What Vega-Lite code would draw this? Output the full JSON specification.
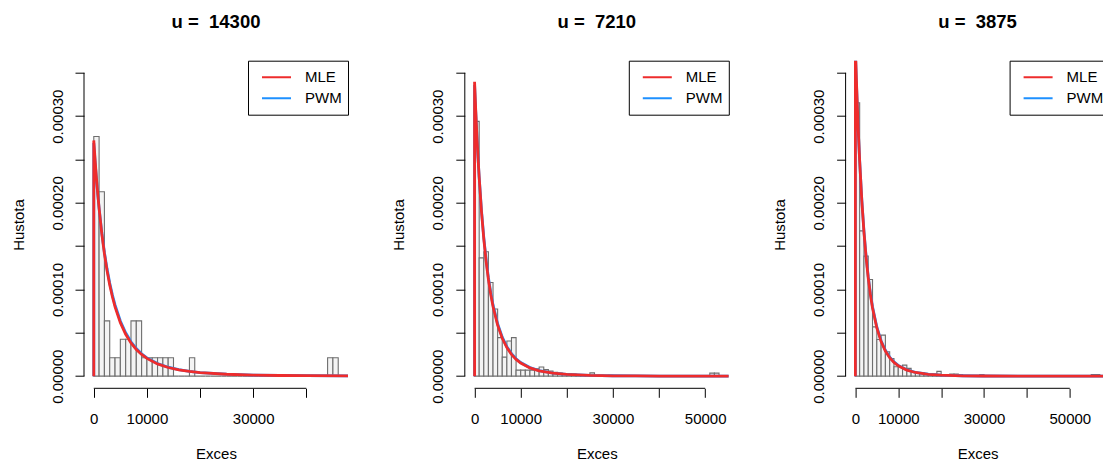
{
  "$schema": "https://vega.github.io/schema/vega-lite/v6.json",
  "background": "white",
  "padding": {"left": 11, "top": 12.7, "right": 0, "bottom": 0},
  "bounds": "flush",
  "spacing": 116.8,
  "config": {
    "font": "Liberation Sans",
    "view": {"stroke": null},
    "axis": {"domain": false, "grid": false, "tickColor": "black", "tickSize": 9, "tickWidth": 1, "labelFont": "Liberation Sans", "labelFontSize": 15, "labelColor": "black", "titleFont": "Liberation Sans", "titleFontSize": 15, "titleFontWeight": "normal", "titleColor": "black", "labelOverlap": false, "labelFlush": false},
    "axisX": {"labelPadding": 14, "titlePadding": 20},
    "axisY": {"labelPadding": 10, "titlePadding": 24, "labelAngle": -90, "labelAlign": "center", "labelBaseline": "bottom"},
    "legend": {"orient": "top-right", "offset": 0, "strokeColor": "black", "strokeWidth": 1, "fillColor": "white", "padding": 6, "labelFont": "Liberation Sans", "labelFontSize": 15, "labelColor": "black", "symbolType": "stroke", "symbolSize": 841, "symbolStrokeWidth": 2, "symbolOffset": 7, "labelOffset": 13, "clipHeight": 21, "rowPadding": 0, "cornerRadius": 0},
    "title": {"font": "Liberation Sans", "fontSize": 18.5, "fontWeight": "bold", "color": "black", "anchor": "middle", "frame": "group", "baseline": "alphabetic", "offset": 28.9}
  },
  "datasets": {
    "b1": [
      {"a":0,"b":1000,"d":2.766e-4},{"a":1000,"b":2000,"d":2.128e-4},{"a":2000,"b":3000,"d":6.383e-5},{"a":3000,"b":4000,"d":2.128e-5},{"a":4000,"b":5000,"d":2.128e-5},{"a":5000,"b":6000,"d":4.255e-5},{"a":6000,"b":7000,"d":4.255e-5},{"a":7000,"b":8000,"d":6.383e-5},{"a":8000,"b":9000,"d":6.383e-5},{"a":9000,"b":10000,"d":2.128e-5},
      {"a":10000,"b":11000,"d":2.128e-5},{"a":11000,"b":12000,"d":2.128e-5},{"a":12000,"b":13000,"d":2.128e-5},{"a":13000,"b":14000,"d":2.128e-5},{"a":14000,"b":15000,"d":2.128e-5},{"a":15000,"b":16000,"d":0},{"a":16000,"b":17000,"d":0},{"a":17000,"b":18000,"d":0},{"a":18000,"b":19000,"d":2.128e-5},{"a":19000,"b":20000,"d":0},
      {"a":20000,"b":21000,"d":0},{"a":21000,"b":22000,"d":0},{"a":22000,"b":23000,"d":0},{"a":23000,"b":24000,"d":0},{"a":24000,"b":25000,"d":0},{"a":25000,"b":26000,"d":0},{"a":26000,"b":27000,"d":0},{"a":27000,"b":28000,"d":0},{"a":28000,"b":29000,"d":0},{"a":29000,"b":30000,"d":0},
      {"a":30000,"b":31000,"d":0},{"a":31000,"b":32000,"d":0},{"a":32000,"b":33000,"d":0},{"a":33000,"b":34000,"d":0},{"a":34000,"b":35000,"d":0},{"a":35000,"b":36000,"d":0},{"a":36000,"b":37000,"d":0},{"a":37000,"b":38000,"d":0},{"a":38000,"b":39000,"d":0},{"a":39000,"b":40000,"d":0},
      {"a":40000,"b":41000,"d":0},{"a":41000,"b":42000,"d":0},{"a":42000,"b":43000,"d":0},{"a":43000,"b":44000,"d":0},{"a":44000,"b":45000,"d":2.128e-5},{"a":45000,"b":46000,"d":2.128e-5}
    ],
    "b2": [
      {"a":0,"b":1000,"d":2.94e-4},{"a":1000,"b":2000,"d":1.365e-4},{"a":2000,"b":3000,"d":1.435e-4},{"a":3000,"b":4000,"d":1.08e-4},{"a":4000,"b":5000,"d":7.75e-5},{"a":5000,"b":6000,"d":4.45e-5},{"a":6000,"b":7000,"d":2.2e-5},{"a":7000,"b":8000,"d":4.05e-5},{"a":8000,"b":9000,"d":4.45e-5},{"a":9000,"b":10000,"d":7.0e-6},
      {"a":10000,"b":11000,"d":7.0e-6},{"a":11000,"b":12000,"d":7.0e-6},{"a":12000,"b":13000,"d":7.0e-6},{"a":13000,"b":14000,"d":8.5e-6},{"a":14000,"b":15000,"d":1.05e-5},{"a":15000,"b":16000,"d":7.5e-6},{"a":16000,"b":17000,"d":6.0e-6},{"a":17000,"b":18000,"d":4.5e-6},{"a":18000,"b":19000,"d":3.5e-6},{"a":19000,"b":20000,"d":3.0e-6},
      {"a":20000,"b":21000,"d":3.0e-6},{"a":21000,"b":22000,"d":2.5e-6},{"a":22000,"b":23000,"d":2.0e-6},{"a":23000,"b":24000,"d":2.0e-6},{"a":24000,"b":25000,"d":1.0e-6},{"a":25000,"b":26000,"d":3.8e-6},{"a":26000,"b":27000,"d":1.0e-6},{"a":27000,"b":28000,"d":1.0e-6},{"a":28000,"b":29000,"d":0},{"a":29000,"b":30000,"d":1.0e-6},
      {"a":30000,"b":31000,"d":0},{"a":31000,"b":32000,"d":0},{"a":32000,"b":33000,"d":0},{"a":33000,"b":34000,"d":0},{"a":34000,"b":35000,"d":0},{"a":35000,"b":36000,"d":0},{"a":36000,"b":37000,"d":0},{"a":37000,"b":38000,"d":0},{"a":38000,"b":39000,"d":0},{"a":39000,"b":40000,"d":0},
      {"a":40000,"b":41000,"d":0},{"a":41000,"b":42000,"d":0},{"a":42000,"b":43000,"d":0},{"a":43000,"b":44000,"d":0},{"a":44000,"b":45000,"d":0},{"a":45000,"b":46000,"d":0},{"a":46000,"b":47000,"d":0},{"a":47000,"b":48000,"d":0},{"a":48000,"b":49000,"d":0},{"a":49000,"b":50000,"d":0},
      {"a":50000,"b":51000,"d":0},{"a":51000,"b":52000,"d":3.5e-6},{"a":52000,"b":53000,"d":3.5e-6}
    ],
    "b3": [
      {"a":0,"b":1000,"d":3.155e-4},{"a":1000,"b":2000,"d":1.677e-4},{"a":2000,"b":3000,"d":1.385e-4},{"a":3000,"b":4000,"d":1.115e-4},{"a":4000,"b":5000,"d":5.69e-5},{"a":5000,"b":6000,"d":4.23e-5},{"a":6000,"b":7000,"d":4.73e-5},{"a":7000,"b":8000,"d":2.81e-5},{"a":8000,"b":9000,"d":2.04e-5},{"a":9000,"b":10000,"d":1.08e-5},
      {"a":10000,"b":11000,"d":1.08e-5},{"a":11000,"b":12000,"d":1.27e-5},{"a":12000,"b":13000,"d":9.0e-6},{"a":13000,"b":14000,"d":4.5e-6},{"a":14000,"b":15000,"d":4.2e-6},{"a":15000,"b":16000,"d":4.2e-6},{"a":16000,"b":17000,"d":3.0e-6},{"a":17000,"b":18000,"d":2.5e-6},{"a":18000,"b":19000,"d":2.3e-6},{"a":19000,"b":20000,"d":5.5e-6},
      {"a":20000,"b":21000,"d":2.0e-6},{"a":21000,"b":22000,"d":2.0e-6},{"a":22000,"b":23000,"d":2.5e-6},{"a":23000,"b":24000,"d":2.5e-6},{"a":24000,"b":25000,"d":2.0e-6},{"a":25000,"b":26000,"d":5.0e-7},{"a":26000,"b":27000,"d":0},{"a":27000,"b":28000,"d":5.0e-7},{"a":28000,"b":29000,"d":0},{"a":29000,"b":30000,"d":2.0e-6},
      {"a":30000,"b":31000,"d":0},{"a":31000,"b":32000,"d":0},{"a":32000,"b":33000,"d":0},{"a":33000,"b":34000,"d":0},{"a":34000,"b":35000,"d":0},{"a":35000,"b":36000,"d":0},{"a":36000,"b":37000,"d":0},{"a":37000,"b":38000,"d":0},{"a":38000,"b":39000,"d":0},{"a":39000,"b":40000,"d":0},
      {"a":40000,"b":41000,"d":0},{"a":41000,"b":42000,"d":0},{"a":42000,"b":43000,"d":0},{"a":43000,"b":44000,"d":0},{"a":44000,"b":45000,"d":0},{"a":45000,"b":46000,"d":0},{"a":46000,"b":47000,"d":0},{"a":47000,"b":48000,"d":0},{"a":48000,"b":49000,"d":0},{"a":49000,"b":50000,"d":0},
      {"a":50000,"b":51000,"d":0},{"a":51000,"b":52000,"d":0},{"a":52000,"b":53000,"d":0},{"a":53000,"b":54000,"d":0},{"a":54000,"b":55000,"d":0},{"a":55000,"b":56000,"d":2.0e-6},{"a":56000,"b":57000,"d":2.0e-6}
    ],
    "c1": [
      {"m":"PWM","x":0,"d":0},{"m":"PWM","x":0,"d":2.69e-4},{"m":"PWM","x":250,"d":2.47e-4},{"m":"PWM","x":500,"d":2.275e-4},{"m":"PWM","x":750,"d":2.098e-4},{"m":"PWM","x":1000,"d":1.938e-4},{"m":"PWM","x":1500,"d":1.66e-4},{"m":"PWM","x":2000,"d":1.43e-4},{"m":"PWM","x":2500,"d":1.238e-4},{"m":"PWM","x":3000,"d":1.075e-4},{"m":"PWM","x":3500,"d":9.38e-5},{"m":"PWM","x":4000,"d":8.22e-5},{"m":"PWM","x":5000,"d":6.36e-5},{"m":"PWM","x":6000,"d":5.0e-5},{"m":"PWM","x":7000,"d":3.97e-5},{"m":"PWM","x":8000,"d":3.18e-5},{"m":"PWM","x":9000,"d":2.58e-5},{"m":"PWM","x":10000,"d":2.11e-5},{"m":"PWM","x":12000,"d":1.45e-5},{"m":"PWM","x":14000,"d":1.03e-5},{"m":"PWM","x":16000,"d":7.5e-6},{"m":"PWM","x":18000,"d":5.55e-6},{"m":"PWM","x":20000,"d":4.2e-6},{"m":"PWM","x":25000,"d":2.25e-6},{"m":"PWM","x":30000,"d":1.3e-6},{"m":"PWM","x":35000,"d":8.0e-7},{"m":"PWM","x":40000,"d":5.2e-7},{"m":"PWM","x":47840,"d":2.9e-7},
      {"m":"MLE","x":0,"d":0},{"m":"MLE","x":0,"d":2.72e-4},{"m":"MLE","x":250,"d":2.492e-4},{"m":"MLE","x":500,"d":2.287e-4},{"m":"MLE","x":750,"d":2.103e-4},{"m":"MLE","x":1000,"d":1.936e-4},{"m":"MLE","x":1500,"d":1.649e-4},{"m":"MLE","x":2000,"d":1.413e-4},{"m":"MLE","x":2500,"d":1.217e-4},{"m":"MLE","x":3000,"d":1.053e-4},{"m":"MLE","x":3500,"d":9.16e-5},{"m":"MLE","x":4000,"d":8.0e-5},{"m":"MLE","x":5000,"d":6.17e-5},{"m":"MLE","x":6000,"d":4.84e-5},{"m":"MLE","x":7000,"d":3.84e-5},{"m":"MLE","x":8000,"d":3.08e-5},{"m":"MLE","x":9000,"d":2.5e-5},{"m":"MLE","x":10000,"d":2.05e-5},{"m":"MLE","x":12000,"d":1.41e-5},{"m":"MLE","x":14000,"d":1.0e-5},{"m":"MLE","x":16000,"d":7.29e-6},{"m":"MLE","x":18000,"d":5.42e-6},{"m":"MLE","x":20000,"d":4.1e-6},{"m":"MLE","x":25000,"d":2.2e-6},{"m":"MLE","x":30000,"d":1.27e-6},{"m":"MLE","x":35000,"d":7.8e-7},{"m":"MLE","x":40000,"d":5.1e-7},{"m":"MLE","x":47840,"d":2.8e-7}
    ],
    "c2": [
      {"m":"PWM","x":0,"d":0},{"m":"PWM","x":0,"d":3.36e-4},{"m":"PWM","x":250,"d":3.05e-4},{"m":"PWM","x":500,"d":2.77e-4},{"m":"PWM","x":750,"d":2.52e-4},{"m":"PWM","x":1000,"d":2.295e-4},{"m":"PWM","x":1500,"d":1.91e-4},{"m":"PWM","x":2000,"d":1.6e-4},{"m":"PWM","x":2500,"d":1.345e-4},{"m":"PWM","x":3000,"d":1.136e-4},{"m":"PWM","x":3500,"d":9.65e-5},{"m":"PWM","x":4000,"d":8.22e-5},{"m":"PWM","x":5000,"d":6.05e-5},{"m":"PWM","x":6000,"d":4.5e-5},{"m":"PWM","x":7000,"d":3.4e-5},{"m":"PWM","x":8000,"d":2.6e-5},{"m":"PWM","x":9000,"d":2.01e-5},{"m":"PWM","x":10000,"d":1.57e-5},{"m":"PWM","x":12000,"d":9.9e-6},{"m":"PWM","x":14000,"d":6.45e-6},{"m":"PWM","x":17000,"d":3.57e-6},{"m":"PWM","x":20000,"d":2.07e-6},{"m":"PWM","x":25000,"d":9.3e-7},{"m":"PWM","x":30000,"d":4.6e-7},{"m":"PWM","x":35000,"d":2.5e-7},{"m":"PWM","x":40000,"d":1.4e-7},{"m":"PWM","x":45000,"d":8.2e-8},{"m":"PWM","x":55120,"d":3.3e-8},
      {"m":"MLE","x":0,"d":0},{"m":"MLE","x":0,"d":3.396e-4},{"m":"MLE","x":250,"d":3.07e-4},{"m":"MLE","x":500,"d":2.779e-4},{"m":"MLE","x":750,"d":2.521e-4},{"m":"MLE","x":1000,"d":2.29e-4},{"m":"MLE","x":1500,"d":1.897e-4},{"m":"MLE","x":2000,"d":1.582e-4},{"m":"MLE","x":2500,"d":1.325e-4},{"m":"MLE","x":3000,"d":1.116e-4},{"m":"MLE","x":3500,"d":9.45e-5},{"m":"MLE","x":4000,"d":8.03e-5},{"m":"MLE","x":5000,"d":5.88e-5},{"m":"MLE","x":6000,"d":4.37e-5},{"m":"MLE","x":7000,"d":3.29e-5},{"m":"MLE","x":8000,"d":2.51e-5},{"m":"MLE","x":9000,"d":1.94e-5},{"m":"MLE","x":10000,"d":1.514e-5},{"m":"MLE","x":12000,"d":9.5e-6},{"m":"MLE","x":14000,"d":6.16e-6},{"m":"MLE","x":17000,"d":3.4e-6},{"m":"MLE","x":20000,"d":1.97e-6},{"m":"MLE","x":25000,"d":8.8e-7},{"m":"MLE","x":30000,"d":4.3e-7},{"m":"MLE","x":35000,"d":2.3e-7},{"m":"MLE","x":40000,"d":1.3e-7},{"m":"MLE","x":45000,"d":7.6e-8},{"m":"MLE","x":55120,"d":3.0e-8}
    ],
    "c3": [
      {"m":"PWM","x":0,"d":0},{"m":"PWM","x":0,"d":3.75e-4},{"m":"PWM","x":250,"d":3.38e-4},{"m":"PWM","x":500,"d":3.05e-4},{"m":"PWM","x":750,"d":2.75e-4},{"m":"PWM","x":1000,"d":2.485e-4},{"m":"PWM","x":1500,"d":2.035e-4},{"m":"PWM","x":2000,"d":1.675e-4},{"m":"PWM","x":2500,"d":1.383e-4},{"m":"PWM","x":3000,"d":1.148e-4},{"m":"PWM","x":3500,"d":9.57e-5},{"m":"PWM","x":4000,"d":8.0e-5},{"m":"PWM","x":5000,"d":5.68e-5},{"m":"PWM","x":6000,"d":4.09e-5},{"m":"PWM","x":7000,"d":2.98e-5},{"m":"PWM","x":8000,"d":2.2e-5},{"m":"PWM","x":9000,"d":1.64e-5},{"m":"PWM","x":10000,"d":1.24e-5},{"m":"PWM","x":12000,"d":7.3e-6},{"m":"PWM","x":14000,"d":4.43e-6},{"m":"PWM","x":17000,"d":2.22e-6},{"m":"PWM","x":20000,"d":1.17e-6},{"m":"PWM","x":25000,"d":4.6e-7},{"m":"PWM","x":30000,"d":1.95e-7},{"m":"PWM","x":40000,"d":4.5e-8},{"m":"PWM","x":50000,"d":1.1e-8},{"m":"PWM","x":59280,"d":6.0e-9},
      {"m":"MLE","x":0,"d":0},{"m":"MLE","x":0,"d":3.8e-4},{"m":"MLE","x":250,"d":3.409e-4},{"m":"MLE","x":500,"d":3.064e-4},{"m":"MLE","x":750,"d":2.757e-4},{"m":"MLE","x":1000,"d":2.484e-4},{"m":"MLE","x":1500,"d":2.026e-4},{"m":"MLE","x":2000,"d":1.661e-4},{"m":"MLE","x":2500,"d":1.368e-4},{"m":"MLE","x":3000,"d":1.133e-4},{"m":"MLE","x":3500,"d":9.42e-5},{"m":"MLE","x":4000,"d":7.87e-5},{"m":"MLE","x":5000,"d":5.56e-5},{"m":"MLE","x":6000,"d":3.99e-5},{"m":"MLE","x":7000,"d":2.9e-5},{"m":"MLE","x":8000,"d":2.13e-5},{"m":"MLE","x":9000,"d":1.589e-5},{"m":"MLE","x":10000,"d":1.197e-5},{"m":"MLE","x":12000,"d":6.99e-6},{"m":"MLE","x":14000,"d":4.23e-6},{"m":"MLE","x":17000,"d":2.11e-6},{"m":"MLE","x":20000,"d":1.11e-6},{"m":"MLE","x":25000,"d":4.3e-7},{"m":"MLE","x":30000,"d":1.8e-7},{"m":"MLE","x":40000,"d":4.0e-8},{"m":"MLE","x":50000,"d":1.0e-8},{"m":"MLE","x":59280,"d":5.0e-9}
    ]
  },
  "resolve": {"scale": {"x": "independent", "y": "independent", "color": "independent"}, "legend": {"color": "independent"}},
  "hconcat": [
    {
      "width": 264, "height": 327.6,
      "title": {"text": "u = \u00a014300"},
      "layer": [
        {"data": {"name": "b1"}, "mark": {"type": "rect", "fill": "#F4F4F4", "stroke": "#6E6E6E", "strokeWidth": 1.1},
         "encoding": {
           "x": {"field": "a", "type": "quantitative", "title": "Exces", "scale": {"domain": [-1840, 47840], "nice": false, "zero": false}, "axis": {"values": [0, 10000, 20000, 30000, 40000], "labelExpr": "datum.value == 20000 || datum.value == 40000 ? '' : format(datum.value, 'd')"}},
           "x2": {"field": "b"},
           "y": {"field": "d", "type": "quantitative", "title": "Hustota", "scale": {"domain": [-0.000014, 0.000364], "nice": false, "zero": false}, "axis": {"values": [0, 0.00005, 0.0001, 0.00015, 0.0002, 0.00025, 0.0003, 0.00035], "labelExpr": "round(datum.value * 1e5) % 10 == 0 ? format(datum.value, '.5f') : ''"}},
           "y2": {"datum": 0}
         }},
        {"data": {"name": "c1"}, "transform": [{"filter": "datum.m == 'PWM'"}], "mark": {"type": "line", "strokeWidth": 2.8, "clip": true},
         "encoding": {"x": {"field": "x", "type": "quantitative", "title": "Exces"}, "y": {"field": "d", "type": "quantitative", "title": "Hustota"}, "color": {"field": "m", "type": "nominal", "scale": {"domain": ["MLE", "PWM"], "range": ["#EE2C2C", "#1E90FF"]}, "legend": {"title": null}}}},
        {"data": {"name": "c1"}, "transform": [{"filter": "datum.m == 'MLE'"}], "mark": {"type": "line", "strokeWidth": 2.8, "clip": true},
         "encoding": {"x": {"field": "x", "type": "quantitative", "title": "Exces"}, "y": {"field": "d", "type": "quantitative", "title": "Hustota"}, "color": {"field": "m", "type": "nominal", "scale": {"domain": ["MLE", "PWM"], "range": ["#EE2C2C", "#1E90FF"]}, "legend": {"title": null}}}},
        {"data": {"values": [{}]}, "mark": {"type": "rule", "color": "black", "strokeWidth": 1}, "encoding": {"x": {"datum": 0, "title": "Exces"}, "x2": {"datum": 40000}, "y": {"datum": -0.000014, "title": "Hustota"}}},
        {"data": {"values": [{}]}, "mark": {"type": "rule", "color": "black", "strokeWidth": 1}, "encoding": {"x": {"datum": -1840, "title": "Exces"}, "y": {"datum": 0, "title": "Hustota"}, "y2": {"datum": 0.00035}}}
      ]
    },
    {
      "width": 264, "height": 327.6,
      "title": {"text": "u = \u00a07210"},
      "layer": [
        {"data": {"name": "b2"}, "mark": {"type": "rect", "fill": "#F4F4F4", "stroke": "#6E6E6E", "strokeWidth": 1.1},
         "encoding": {
           "x": {"field": "a", "type": "quantitative", "title": "Exces", "scale": {"domain": [-2120, 55120], "nice": false, "zero": false}, "axis": {"values": [0, 10000, 20000, 30000, 40000, 50000], "labelExpr": "datum.value == 20000 || datum.value == 40000 ? '' : format(datum.value, 'd')"}},
           "x2": {"field": "b"},
           "y": {"field": "d", "type": "quantitative", "title": "Hustota", "scale": {"domain": [-0.000014, 0.000364], "nice": false, "zero": false}, "axis": {"values": [0, 0.00005, 0.0001, 0.00015, 0.0002, 0.00025, 0.0003, 0.00035], "labelExpr": "round(datum.value * 1e5) % 10 == 0 ? format(datum.value, '.5f') : ''"}},
           "y2": {"datum": 0}
         }},
        {"data": {"name": "c2"}, "transform": [{"filter": "datum.m == 'PWM'"}], "mark": {"type": "line", "strokeWidth": 2.8, "clip": true},
         "encoding": {"x": {"field": "x", "type": "quantitative", "title": "Exces"}, "y": {"field": "d", "type": "quantitative", "title": "Hustota"}, "color": {"field": "m", "type": "nominal", "scale": {"domain": ["MLE", "PWM"], "range": ["#EE2C2C", "#1E90FF"]}, "legend": {"title": null}}}},
        {"data": {"name": "c2"}, "transform": [{"filter": "datum.m == 'MLE'"}], "mark": {"type": "line", "strokeWidth": 2.8, "clip": true},
         "encoding": {"x": {"field": "x", "type": "quantitative", "title": "Exces"}, "y": {"field": "d", "type": "quantitative", "title": "Hustota"}, "color": {"field": "m", "type": "nominal", "scale": {"domain": ["MLE", "PWM"], "range": ["#EE2C2C", "#1E90FF"]}, "legend": {"title": null}}}},
        {"data": {"values": [{}]}, "mark": {"type": "rule", "color": "black", "strokeWidth": 1}, "encoding": {"x": {"datum": 0, "title": "Exces"}, "x2": {"datum": 50000}, "y": {"datum": -0.000014, "title": "Hustota"}}},
        {"data": {"values": [{}]}, "mark": {"type": "rule", "color": "black", "strokeWidth": 1}, "encoding": {"x": {"datum": -2120, "title": "Exces"}, "y": {"datum": 0, "title": "Hustota"}, "y2": {"datum": 0.00035}}}
      ]
    },
    {
      "width": 264, "height": 327.6,
      "title": {"text": "u = \u00a03875"},
      "layer": [
        {"data": {"name": "b3"}, "mark": {"type": "rect", "fill": "#F4F4F4", "stroke": "#6E6E6E", "strokeWidth": 1.1},
         "encoding": {
           "x": {"field": "a", "type": "quantitative", "title": "Exces", "scale": {"domain": [-2280, 59280], "nice": false, "zero": false}, "axis": {"values": [0, 10000, 20000, 30000, 40000, 50000], "labelExpr": "datum.value == 20000 || datum.value == 40000 ? '' : format(datum.value, 'd')"}},
           "x2": {"field": "b"},
           "y": {"field": "d", "type": "quantitative", "title": "Hustota", "scale": {"domain": [-0.000014, 0.000364], "nice": false, "zero": false}, "axis": {"values": [0, 0.00005, 0.0001, 0.00015, 0.0002, 0.00025, 0.0003, 0.00035], "labelExpr": "round(datum.value * 1e5) % 10 == 0 ? format(datum.value, '.5f') : ''"}},
           "y2": {"datum": 0}
         }},
        {"data": {"name": "c3"}, "transform": [{"filter": "datum.m == 'PWM'"}], "mark": {"type": "line", "strokeWidth": 2.8, "clip": true},
         "encoding": {"x": {"field": "x", "type": "quantitative", "title": "Exces"}, "y": {"field": "d", "type": "quantitative", "title": "Hustota"}, "color": {"field": "m", "type": "nominal", "scale": {"domain": ["MLE", "PWM"], "range": ["#EE2C2C", "#1E90FF"]}, "legend": {"title": null}}}},
        {"data": {"name": "c3"}, "transform": [{"filter": "datum.m == 'MLE'"}], "mark": {"type": "line", "strokeWidth": 2.8, "clip": true},
         "encoding": {"x": {"field": "x", "type": "quantitative", "title": "Exces"}, "y": {"field": "d", "type": "quantitative", "title": "Hustota"}, "color": {"field": "m", "type": "nominal", "scale": {"domain": ["MLE", "PWM"], "range": ["#EE2C2C", "#1E90FF"]}, "legend": {"title": null}}}},
        {"data": {"values": [{}]}, "mark": {"type": "rule", "color": "black", "strokeWidth": 1}, "encoding": {"x": {"datum": 0, "title": "Exces"}, "x2": {"datum": 50000}, "y": {"datum": -0.000014, "title": "Hustota"}}},
        {"data": {"values": [{}]}, "mark": {"type": "rule", "color": "black", "strokeWidth": 1}, "encoding": {"x": {"datum": -2280, "title": "Exces"}, "y": {"datum": 0, "title": "Hustota"}, "y2": {"datum": 0.00035}}}
      ]
    }
  ]
}
